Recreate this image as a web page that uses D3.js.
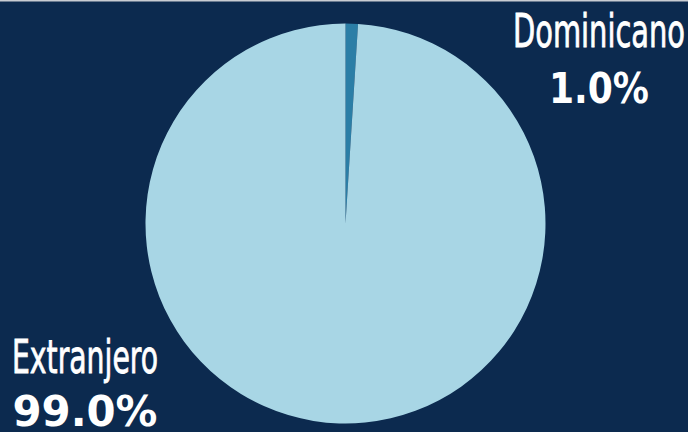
<!DOCTYPE html>
<html><head><meta charset="utf-8">
<script src="https://cdn.jsdelivr.net/npm/d3@7"></script>
<style>html,body{margin:0;padding:0;background:#0c2a4f;}svg{display:block;}</style>
</head><body>
<svg id="c" width="688" height="432"></svg>
<script>
const categories = ["Dominicano", "Extranjero"];
const values = [1.0, 99.0];
const valueLabels = ["1.0%", "99.0%"];
const colors = ["#2b7ea6", "#a8d6e5"];

const W = 688, H = 432;
const svg = d3.select("#c");
svg.append("rect").attr("width", W).attr("height", H).attr("fill", "#0c2a4f");
svg.append("rect").attr("width", W).attr("height", 1.5).attr("fill", "#c9ccd2");

const cx = 345.5, cy = 223.5, r = 200;
const pie = d3.pie().sort(null).value(d => d)(values);
const arc = d3.arc().innerRadius(0).outerRadius(r);
const colorScale = d3.scaleOrdinal().domain(categories).range(colors);

svg.append("g").attr("transform", `translate(${cx},${cy})`)
  .selectAll("path").data(pie).join("path")
  .attr("d", arc)
  .attr("fill", (d, i) => colorScale(categories[i]));

const labelPos = [
  {x: 599, y1: 47, y2: 103, w1: 172, w2: 100},
  {x: 85, y1: 373, y2: 426, w1: 146, w2: 145}
];
categories.forEach((c, i) => {
  const p = labelPos[i];
  svg.append("text").attr("x", p.x).attr("y", p.y1)
    .attr("text-anchor", "middle")
    .attr("font-family", "'Liberation Sans Narrow','DejaVu Sans Condensed',sans-serif")
    .attr("font-size", 46).attr("fill", "#ffffff")
    .attr("stroke", "#ffffff").attr("stroke-width", 0.8)
    .attr("textLength", p.w1).attr("lengthAdjust", "spacingAndGlyphs")
    .text(c);
  svg.append("text").attr("x", p.x).attr("y", p.y2)
    .attr("text-anchor", "middle")
    .attr("font-family", "'DejaVu Sans',sans-serif")
    .attr("font-weight", "bold")
    .attr("font-size", 42).attr("fill", "#ffffff")
    .attr("textLength", p.w2).attr("lengthAdjust", "spacingAndGlyphs")
    .text(valueLabels[i]);
});
</script>
</body></html>
